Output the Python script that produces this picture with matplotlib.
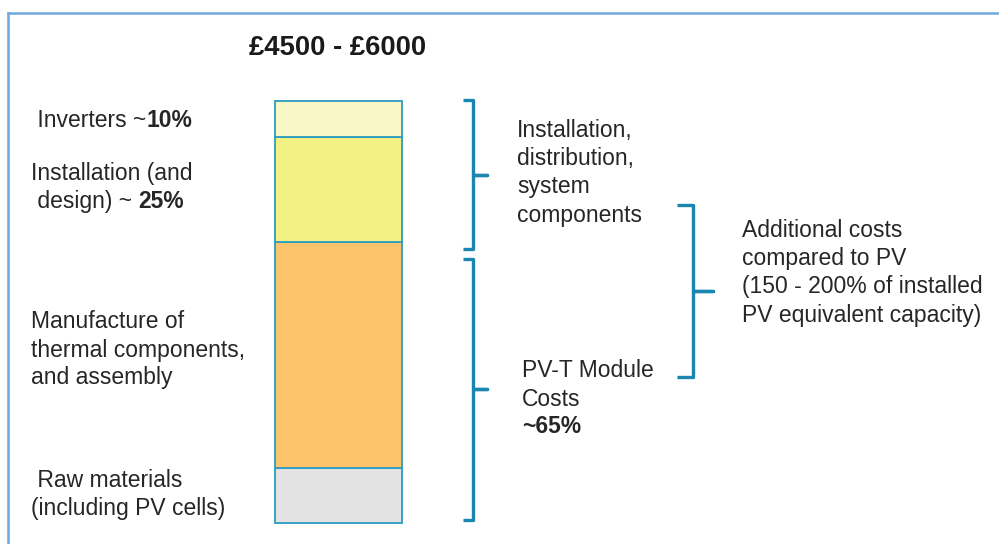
import matplotlib
matplotlib.use("Agg")
import matplotlib.pyplot as plt
from matplotlib.lines import Line2D

plt.rcParams['font.family'] = ['Liberation Sans', 'DejaVu Sans']

# data: stacked share of installed cost, bottom to top
segments = ['Raw materials', 'Manufacture', 'Installation', 'Inverters']
shares = [13.0, 53.5, 25.0, 8.5]
colors = ['#e3e3e3', '#fec46c', '#f3f084', '#f8f7c5']

title = '£4500 - £6000'

# labels: (regular text, bold tail) per line
left_labels = [
    [(' Inverters ~', '10%')],
    [('Installation (and', ''), (' design) ~ ', '25%')],
    [('Manufacture of', ''), ('thermal components,', ''), ('and assembly', '')],
    [(' Raw materials', ''), ('(including PV cells)', '')],
]
right_labels = [
    [('Installation,', ''), ('distribution,', ''), ('system', ''), ('components', '')],
    [('PV-T Module', ''), ('Costs', ''), ('', '~65%')],
    [('Additional costs', ''), ('compared to PV', ''),
     ('(150 - 200% of installed', ''), ('PV equivalent capacity)', '')],
]

W, H = 999, 544
fig = plt.figure(figsize=(W / 100, H / 100), dpi=100)
fig.patch.set_facecolor('white')

# bar layout: share 0 at y=523 px, 100 at y=101 px (from top)
y0_px, y100_px = 523, 101
scale = (y0_px - y100_px) / 100.0
ax = fig.add_axes([0, 0, 1, 1])
ax.set_xlim(0, W)
ax.set_ylim((y0_px - H) / scale, y0_px / scale)
ax.axis('off')

bottom = 0
for name, val, col in zip(segments, shares, colors):
    ax.bar(338, val, width=127, bottom=bottom, color=col,
           edgecolor='#2b9cc0', linewidth=1.3)
    bottom += val


def fy(p):
    return 1 - p / H


def put_lines(lines, x, baselines, size=16.5):
    for (reg, bold), yb in zip(lines, baselines):
        if not reg:
            fig.text(x / W, fy(yb), bold, fontsize=size, fontweight='bold',
                     color='#262626', va='baseline', ha='left')
            continue
        t = fig.text(x / W, fy(yb), reg, fontsize=size, color='#262626',
                     va='baseline', ha='left')
        if bold:
            ax.annotate(bold, xy=(1, 0), xycoords=t, fontsize=size,
                        fontweight='bold', color='#262626',
                        va='bottom', ha='left')


fig.text(338 / W, fy(55), title, fontsize=19.8, fontweight='bold',
         color='#1a1a1a', ha='center', va='baseline')

put_lines(left_labels[0], 31, [127])
put_lines(left_labels[1], 31, [180, 208])
put_lines(left_labels[2], 31, [328, 357, 384])
put_lines(left_labels[3], 31, [487, 515])
put_lines(right_labels[0], 517, [137, 165, 193, 222])
put_lines(right_labels[1], 522, [377, 406, 433])
put_lines(right_labels[2], 742, [237, 265, 293, 322])

# braces: (x of spine, stub length, tip length, span in share units)
braces = [
    (473, 10, 14, 64.9, 100.2),
    (473, 10, 14, 0.7, 62.6),
    (693, 16, 20, 34.6, 75.4),
]
for x, stub, tip, lo, hi in braces:
    mid = (lo + hi) / 2
    ax.plot([x - stub, x, x, x + tip, x, x, x - stub],
            [hi, hi, mid, mid, mid, lo, lo],
            color='#1b87b0', lw=2.4, solid_joinstyle='round',
            solid_capstyle='butt')

# frame lines (top and left)
fig.add_artist(Line2D([8 / W, 1], [fy(13), fy(13)], color='#6fa8dc', lw=1.8))
fig.add_artist(Line2D([8 / W, 8 / W], [fy(13), 0], color='#6fa8dc', lw=1.8))

fig.savefig('out.png', dpi=100)
